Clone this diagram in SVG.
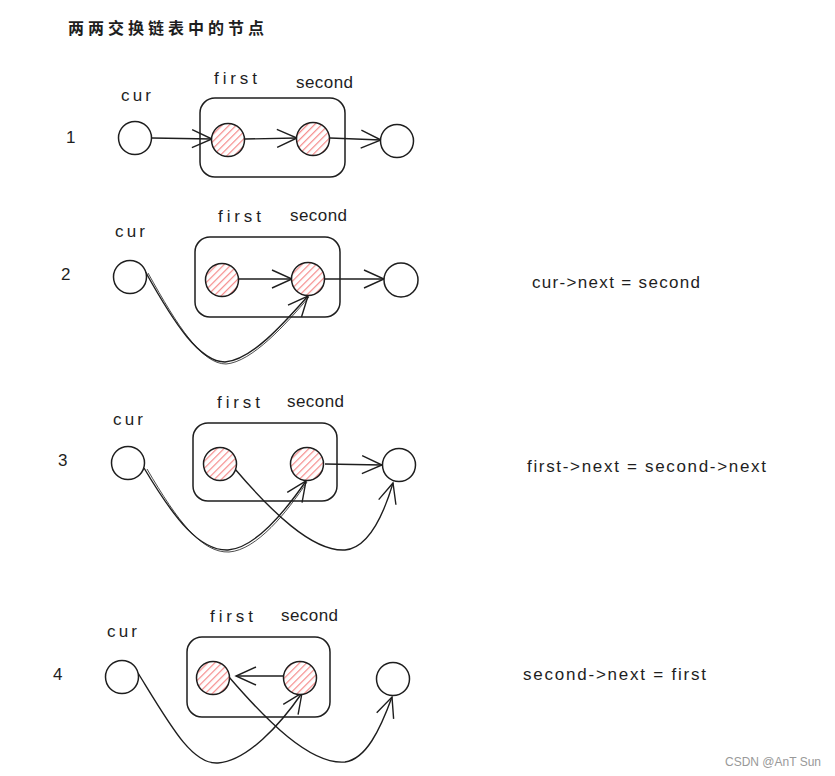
<svg xmlns="http://www.w3.org/2000/svg" width="835" height="776" viewBox="0 0 835 776">
<style>
.t{font-family:"Liberation Sans","Noto Sans",sans-serif;font-size:17px;fill:#1e1e1e}
.title{font-family:"Noto Sans CJK SC","Noto Sans",sans-serif;font-size:16px;letter-spacing:4px;font-weight:bold;fill:#1e1e1e}
.n{fill:#fff;stroke:#1e1e1e;stroke-width:1.5}
.h{fill:url(#hatch);stroke:#1e1e1e;stroke-width:1.5}
.box{fill:none;stroke:#1e1e1e;stroke-width:1.5}
.c{fill:none;stroke:#1e1e1e;stroke-width:1.4;marker-end:url(#ah)}
.c2{fill:none;stroke:#1e1e1e;stroke-width:0.8}
.wm{font-family:"Liberation Sans",sans-serif;font-size:12px;fill:#999}
</style>
<defs>
<pattern id="hatch" patternUnits="userSpaceOnUse" width="5" height="5" patternTransform="rotate(45)">
<rect width="5" height="5" fill="#fff"/>
<line x1="0" y1="0" x2="0" y2="5" stroke="#f58a8a" stroke-width="2.4"/>
</pattern>
<marker id="ah" markerUnits="userSpaceOnUse" markerWidth="30" markerHeight="30" refX="21" refY="11" orient="auto">
<path d="M1 2 L21 11 L1 20" fill="none" stroke="#1e1e1e" stroke-width="1.4"/>
</marker>
</defs>
<rect width="835" height="776" fill="#fff"/>
<text class="title" x="68" y="34">两两交换链表中的节点</text>

<g id="labels">
<text class="t" x="66" y="143">1</text>
<text class="t" x="121" y="101" textLength="30">cur</text>
<text class="t" x="214" y="84" textLength="43">first</text>
<text class="t" x="296" y="88" textLength="57">second</text>

<text class="t" x="61" y="280">2</text>
<text class="t" x="115" y="237" textLength="30">cur</text>
<text class="t" x="218" y="222" textLength="43">first</text>
<text class="t" x="290" y="221" textLength="57">second</text>

<text class="t" x="58" y="466">3</text>
<text class="t" x="113" y="425" textLength="30">cur</text>
<text class="t" x="217" y="408" textLength="43">first</text>
<text class="t" x="287" y="407" textLength="57">second</text>

<text class="t" x="53" y="680">4</text>
<text class="t" x="107" y="637" textLength="30">cur</text>
<text class="t" x="210" y="622" textLength="43">first</text>
<text class="t" x="281" y="621" textLength="57">second</text>

<text class="t" x="532" y="288" textLength="168">cur-&gt;next = second</text>
<text class="t" x="527" y="472" textLength="239">first-&gt;next = second-&gt;next</text>
<text class="t" x="523" y="680" textLength="183">second-&gt;next = first</text>
</g>

<g id="boxes">
<rect class="box" x="200" y="98" width="145" height="79" rx="15"/>
<rect class="box" x="195" y="237" width="145" height="80" rx="15"/>
<rect class="box" x="193" y="423" width="144" height="78" rx="15"/>
<rect class="box" x="187" y="637" width="143" height="80" rx="15"/>
</g>

<g id="connectors">
<path class="c" d="M152 138 L212 139"/>
<path class="c" d="M245 139 L297 138"/>
<path class="c" d="M330 138 L381 140"/>

<path class="c" d="M238 279 L292 279"/>
<path class="c" d="M325 279 L384 279"/>
<path class="c" d="M145 271 C175 325 200 362 225 362 C252 360 285 322 308 296"/>
<path class="c2" d="M148 273 C178 327 202 364 226 364 C252 362 286 324 309 297"/>

<path class="c" d="M325 464 L382 465"/>
<path class="c" d="M144 468 C175 520 200 551 228 550 C256 548 286 510 306 481"/>
<path class="c2" d="M147 469 C178 522 202 553 229 552 C257 550 287 512 307 482"/>
<path class="c" d="M235 469 C270 510 312 552 345 550 C366 548 382 520 393 483"/>

<path class="c" d="M283 676 L236 676"/>
<path class="c" d="M138 673 C170 725 192 765 218 763 C247 761 280 725 302 693"/>
<path class="c" d="M229 677 C266 720 310 765 345 762 C366 759 380 730 392 697"/>
</g>

<g id="row1">
<circle id="r1-cur" class="n" cx="135" cy="138" r="16.5"/>
<circle id="r1-first" class="h" cx="228" cy="140" r="16.5"/>
<circle id="r1-second" class="h" cx="313" cy="139" r="16.5"/>
<circle id="r1-next" class="n" cx="397" cy="141" r="16.5"/>
</g>
<g id="row2">
<circle id="r2-cur" class="n" cx="130" cy="277" r="16.5"/>
<circle id="r2-first" class="h" cx="222" cy="280" r="16.5"/>
<circle id="r2-second" class="h" cx="308" cy="279" r="16.5"/>
<circle id="r2-next" class="n" cx="401" cy="280" r="17"/>
</g>
<g id="row3">
<circle id="r3-cur" class="n" cx="128" cy="463" r="16.5"/>
<circle id="r3-first" class="h" cx="220" cy="464" r="16.5"/>
<circle id="r3-second" class="h" cx="307" cy="464" r="16.5"/>
<circle id="r3-next" class="n" cx="399" cy="465" r="16.5"/>
</g>
<g id="row4">
<circle id="r4-cur" class="n" cx="122" cy="677" r="16.5"/>
<circle id="r4-first" class="h" cx="213" cy="678" r="16.5"/>
<circle id="r4-second" class="h" cx="300" cy="678" r="16.5"/>
<circle id="r4-next" class="n" cx="393" cy="679" r="16.5"/>
</g>

<text class="wm" x="725" y="766">CSDN @AnT Sun</text>
</svg>
